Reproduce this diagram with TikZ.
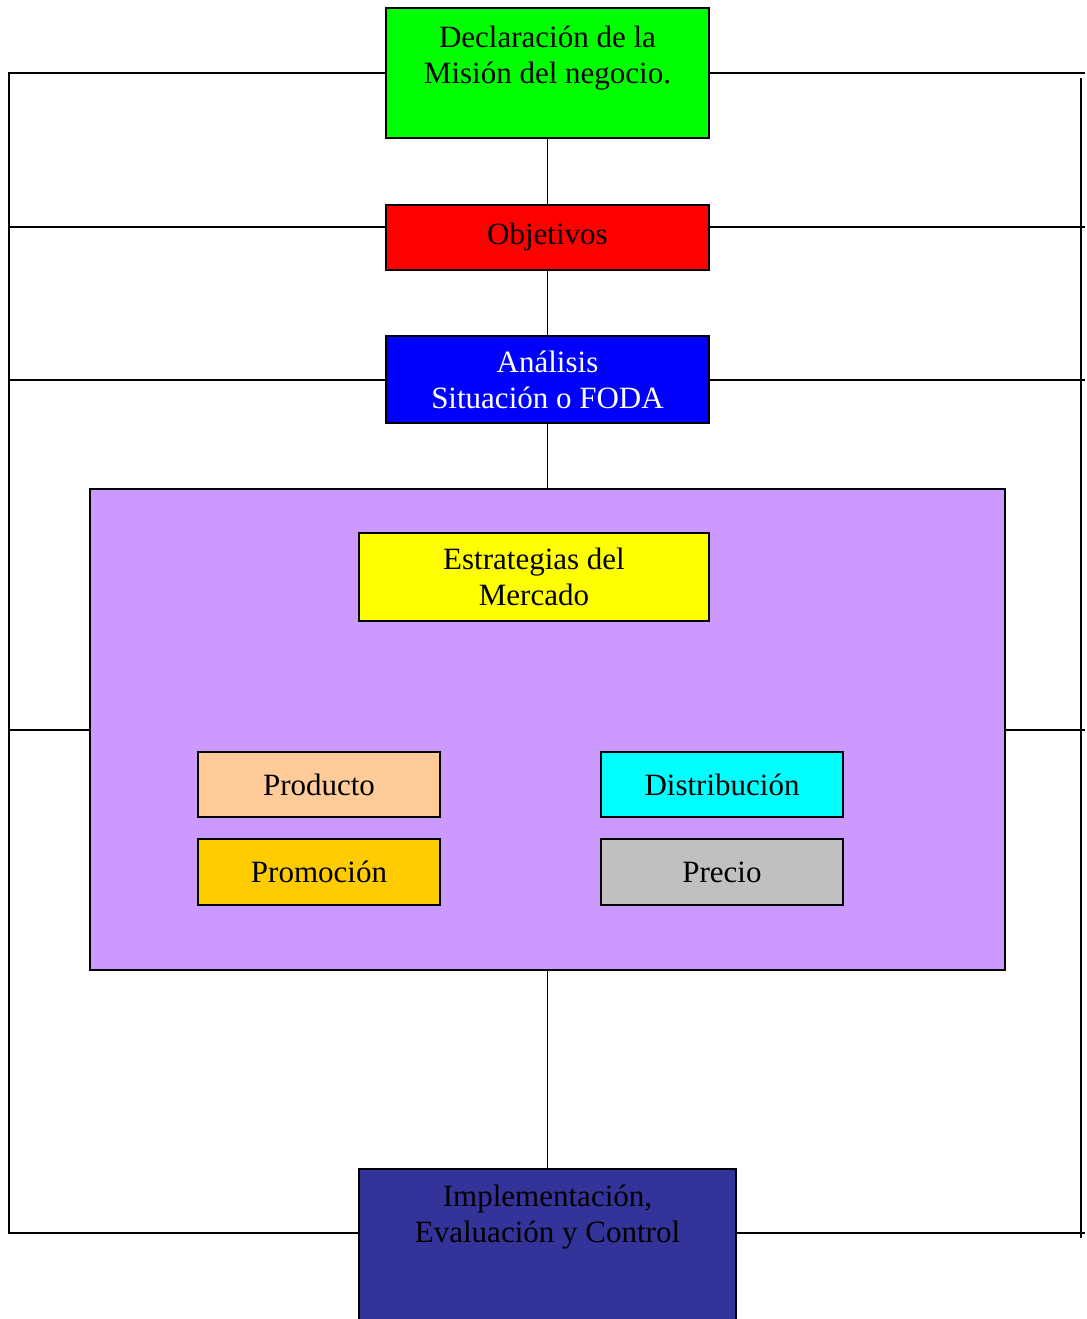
\documentclass[tikz,border=0pt]{standalone}
\usepackage{fontspec}
\setmainfont{Liberation Serif}
\definecolor{misgreen}{HTML}{00FF00}
\definecolor{objred}{HTML}{FF0000}
\definecolor{fodablue}{HTML}{0000FF}
\definecolor{mktpurple}{HTML}{CC99FF}
\definecolor{estyellow}{HTML}{FFFF00}
\definecolor{prodpeach}{HTML}{FFCC99}
\definecolor{distcyan}{HTML}{00FFFF}
\definecolor{promgold}{HTML}{FFCC00}
\definecolor{preciogray}{HTML}{C0C0C0}
\definecolor{implnavy}{HTML}{333399}
\begin{document}
\begin{tikzpicture}
    [x=0.5pt,y=-0.5pt,inner sep=0pt,
     box/.style={rectangle,draw,line width=0.9pt,align=center,
                 font=\fontsize{15.5}{18}\selectfont},
     txt/.style={align=center,font=\fontsize{15.5}{18}\selectfont},
     link/.style={line width=0.9pt}]
    \useasboundingbox (0,0) rectangle (1087,1319);
    \clip (0,0) rectangle (1087,1319);
    % upper column
    \node (mision) at (547.5, 73) [box,fill=misgreen,minimum width=161.5pt,minimum height=65pt] {};
    \node (misiontxt) at (547.5, 58) [txt] {Declaración de la\\Misión del negocio.};
    \node (obj) at (547.5, 237.5) [box,fill=objred,minimum width=161.5pt,minimum height=32.5pt] {Objetivos};
    \node (foda) at (547.5, 379.5) [box,fill=fodablue,text=white,minimum width=161.5pt,minimum height=43.5pt] {Análisis\\Situación o FODA};
    % marketing block
    \node (mkt) at (547.5, 729.5) [box,fill=mktpurple,minimum width=457.5pt,minimum height=240.5pt] {};
    \node (estr) at (534, 577) [box,fill=estyellow,minimum width=175pt,minimum height=44pt] {Estrategias del\\Mercado};
    \node (prod) at (319, 784.5) [box,fill=prodpeach,minimum width=121pt,minimum height=32.5pt] {Producto};
    \node (dist) at (722, 784.5) [box,fill=distcyan,minimum width=121pt,minimum height=32.5pt] {Distribución};
    \node (prom) at (319, 872) [box,fill=promgold,minimum width=121pt,minimum height=33pt] {Promoción};
    \node (precio) at (722, 872) [box,fill=preciogray,minimum width=121pt,minimum height=33pt] {Precio};
    % bottom
    \node (impl) at (547.5, 1168) [box,fill=implnavy,anchor=north,minimum width=188.5pt,minimum height=100pt] {};
    \node (impltxt) at (547.5, 1217) [txt] {Implementación,\\Evaluación y Control};
    % frame points
    \coordinate (lt) at (9, 73);
    \coordinate (l2) at (9, 227);
    \coordinate (l3) at (9, 380);
    \coordinate (l4) at (9, 730);
    \coordinate (lb) at (9, 1233);
    \coordinate (rt) at (1085, 73);
    \coordinate (r2) at (1085, 227);
    \coordinate (r3) at (1085, 380);
    \coordinate (r4) at (1085, 730);
    \coordinate (rb) at (1085, 1233);
    \coordinate (rtop) at (1081, 78);
    \coordinate (rbot) at (1081, 1238);
    % centre line
    \draw [link] (mision) to (obj);
    \draw [link] (obj) to (foda);
    \draw [link] (foda) to (mkt);
    \draw [link] (mkt) to (impl);
    % left side
    \draw [link] (mision.west) -- (lt) -- (lb) -- (lb -| impl.west);
    \draw [link] (l2) -- (l2 -| obj.west);
    \draw [link] (l3) -- (l3 -| foda.west);
    \draw [link] (l4) -- (l4 -| mkt.west);
    % right side
    \draw [link] (mision.east) -- (rt);
    \draw [link] (r2 -| obj.east) -- (r2);
    \draw [link] (r3 -| foda.east) -- (r3);
    \draw [link] (r4 -| mkt.east) -- (r4);
    \draw [link] (rb -| impl.east) -- (rb);
    \draw [link] (rtop) -- (rbot);
  \end{tikzpicture}
\end{document}
